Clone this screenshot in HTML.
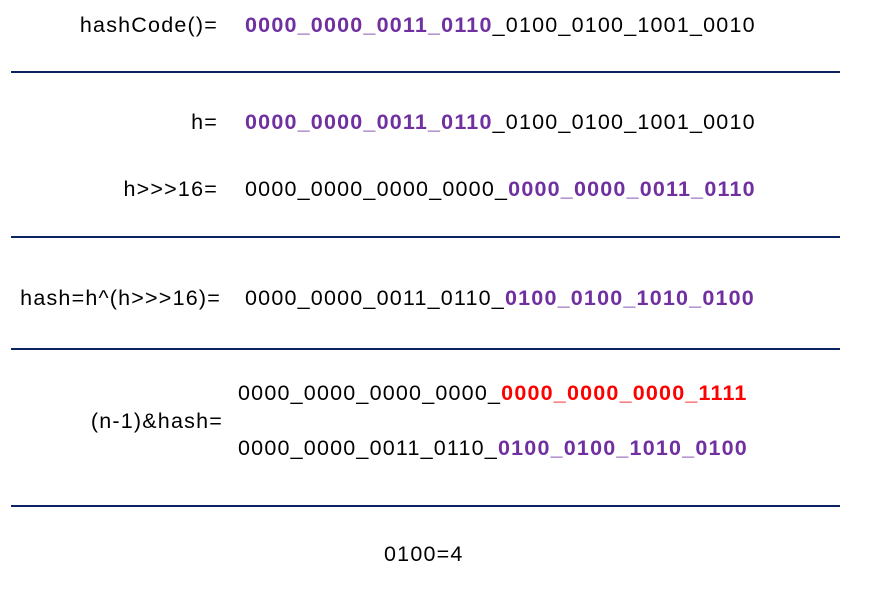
<!DOCTYPE html>
<html><head><style>
body{margin:0;width:869px;height:594px;background:#fff;position:relative;font-family:"Liberation Sans",Arial,sans-serif;font-size:21.5px;letter-spacing:1.2px;color:#000;overflow:hidden}
.t{position:absolute;white-space:nowrap;line-height:24px}
.r{text-align:right}
.p{color:#7030A0;font-weight:bold}
.d{color:#FF0000;font-weight:bold}
.l{position:absolute;left:11px;width:829px;height:2px;background:#0C2361}
</style></head><body>
<div class="t r" style="right:651px;top:13px">hashCode()=</div>
<div class="t" style="left:245px;top:13px"><span class="p">0000_0000_0011_0110</span>_0100_0100_1001_0010</div>
<div class="l" style="top:71px"></div>
<div class="t r" style="right:651px;top:110px">h=</div>
<div class="t" style="left:245px;top:110px"><span class="p">0000_0000_0011_0110</span>_0100_0100_1001_0010</div>
<div class="t r" style="right:651px;top:177px">h&gt;&gt;&gt;16=</div>
<div class="t" style="left:245px;top:177px">0000_0000_0000_0000_<span class="p">0000_0000_0011_0110</span></div>
<div class="l" style="top:236px"></div>
<div class="t r" style="right:648px;top:286px">hash=h^(h&gt;&gt;&gt;16)=</div>
<div class="t" style="left:245px;top:286px">0000_0000_0011_0110_<span class="p">0100_0100_1010_0100</span></div>
<div class="l" style="top:348px"></div>
<div class="t r" style="right:646px;top:409px">(n-1)&amp;hash=</div>
<div class="t" style="left:238px;top:381px">0000_0000_0000_0000_<span class="d">0000_0000_0000_1111</span></div>
<div class="t" style="left:238px;top:436px">0000_0000_0011_0110_<span class="p">0100_0100_1010_0100</span></div>
<div class="l" style="top:505px"></div>
<div class="t" style="left:384px;top:542px">0100=4</div>
</body></html>
